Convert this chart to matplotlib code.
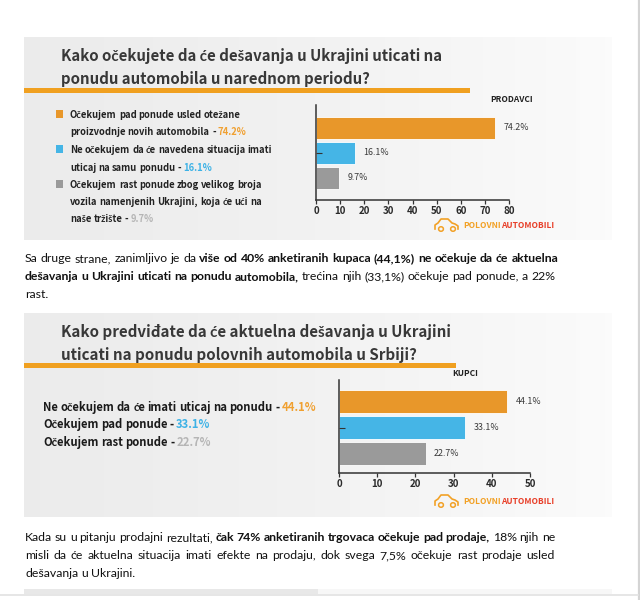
import matplotlib
matplotlib.use('Agg')
import matplotlib.pyplot as plt
import numpy as np
from matplotlib.transforms import IdentityTransform
from matplotlib.patches import Rectangle, Circle
from matplotlib.lines import Line2D

# ---------------- data ----------------
title1 = ["Kako očekujete da će dešavanja u Ukrajini uticati na",
          "ponudu automobila u narednom periodu?"]
group1 = "PRODAVCI"
legend1_lines = [
    [("Očekujem pad ponude usled otežane", 0)],
    [("proizvodnje novih automobila - ", 0), ("74.2%", 1)],
    [("Ne očekujem da će navedena situacija imati", 0)],
    [("uticaj na samu ponudu - ", 0), ("16.1%", 1)],
    [("Očekujem rast ponude zbog velikog broja", 0)],
    [("vozila namenjenih Ukrajini, koja će ući na", 0)],
    [("naše tržište - ", 0), ("9.7%", 1)],
]
sellers_values = [74.2, 16.1, 9.7]
sellers_labels = ["74.2%", "16.1%", "9.7%"]
sellers_ticks = [0, 10, 20, 30, 40, 50, 60, 70, 80]

title2 = ["Kako predviđate da će aktuelna dešavanja u Ukrajini",
          "uticati na ponudu polovnih automobila u Srbiji?"]
group2 = "KUPCI"
legend2_lines = [
    [("Ne očekujem da će imati uticaj na ponudu - ", 0), ("44.1%", 1)],
    [("Očekujem pad ponude  - ", 0), ("33.1%", 1)],
    [("Očekujem rast ponude  - ", 0), ("22.7%", 1)],
]
buyers_values = [44.1, 33.1, 22.7]
buyers_labels = ["44.1%", "33.1%", "22.7%"]
buyers_ticks = [0, 10, 20, 30, 40, 50]

para1 = [
    [("Sa druge strane, zanimljivo je da ", "normal"),
     ("više od 40% anketiranih kupaca (44,1%) ne očekuje da će aktuelna", "bold")],
    [("dešavanja u Ukrajini uticati na ponudu automobila", "bold"),
     (", trećina njih (33,1%) očekuje pad ponude, a 22%", "normal")],
    [("rast.", "normal")],
]
para2 = [
    [("Kada su u pitanju prodajni rezultati, ", "normal"),
     ("čak 74% anketiranih trgovaca očekuje pad prodaje", "bold"),
     (", 18% njih ne", "normal")],
    [("misli da će aktuelna situacija imati efekte na prodaju, dok svega 7,5% očekuje rast prodaje usled", "normal")],
    [("dešavanja u Ukrajini.", "normal")],
]

bar_colors = ["#E8972A", "#45B5E6", "#9A9A9A"]
value_colors = ["#F0A030", "#3DB2E6", "#B5B5B5"]

# ---------------- figure ----------------
W, H = 640, 600
fig = plt.figure(figsize=(W / 100, H / 100), dpi=100)
fig.patch.set_facecolor("white")
renderer = fig.canvas.get_renderer()
ID = IdentityTransform()

TFAM = ["Noto Sans CJK SC", "Lato", "DejaVu Sans"]
PFAM = ["Lato", "DejaVu Sans"]

def rect_axes(x0, y0, x1, y1):
    return [x0 / W, 1 - y1 / H, (x1 - x0) / W, (y1 - y0) / H]

def text_px(x, y, s, **kw):
    return fig.text(x, H - y, s, transform=ID, **kw)

def width_of(s, **kw):
    t = fig.text(0, 0, s, transform=ID, **kw)
    w = t.get_window_extent(renderer).width
    t.remove()
    return w

def advance_of(s, **kw):
    return width_of("H" + s + "H", **kw) - width_of("HH", **kw)

def fit_size(s, target, **kw):
    w = width_of(s, fontsize=10, **kw)
    return 10 * target / w

def draw_runs(x, y, runs, fam, size, justify_to=None):
    """runs: list of (text, weight, color). y is baseline (from top)."""
    tokens = []
    pending_space = False
    first = True
    for text, weight, color in runs:
        parts = text.split(" ")
        for i, p in enumerate(parts):
            if i > 0:
                pending_space = True
            if p == "":
                continue
            if not pending_space and tokens and p[0] in ",.":
                tokens[-1][0] += p[0]
                p = p[1:]
                if p == "":
                    continue
            tokens.append([p, weight, color, pending_space and not first])
            pending_space = False
            first = False
    sp = {}
    for wt in set(t[1] for t in tokens):
        sp[wt] = advance_of(" ", family=fam, fontsize=size, weight=wt)
    advs = [advance_of(t[0], family=fam, fontsize=size, weight=t[1]) for t in tokens]
    inks = [width_of(t[0], family=fam, fontsize=size, weight=t[1]) for t in tokens]
    natural = sum(advs) + sum(sp[t[1]] for t in tokens if t[3])
    ngaps = sum(1 for t in tokens if t[3])
    extra = 0
    if justify_to is not None and ngaps > 0:
        extra = (justify_to - x - natural) / ngaps
    cur = x
    for (p, wt, col, spb), a, ink in zip(tokens, advs, inks):
        if spb:
            cur += sp[wt] + extra
        text_px(cur + (a - ink) / 2, y, p, family=fam, fontsize=size, weight=wt,
                color=col, va="baseline", ha="left")
        cur += a

# page lines
fig.add_artist(Line2D([638.5 / W, 638.5 / W], [0, 1], color="#D4D4D4", lw=1.6))
fig.add_artist(Line2D([0, 638 / W], [1 - 595 / H, 1 - 595 / H], color="#E2E2E2", lw=1.2))

def panel(y0, y1):
    ax = fig.add_axes(rect_axes(24, y0, 612, y1), zorder=0)
    grad = np.linspace(0, 1, 256)
    c0 = np.array([0.925, 0.925, 0.925])
    c1 = np.array([0.985, 0.985, 0.985])
    img = c0[None, None, :] * (1 - grad[None, :, None] ** 1.3) + c1[None, None, :] * grad[None, :, None] ** 1.3
    ax.imshow(img, aspect="auto", extent=[0, 1, 0, 1])
    ax.set_axis_off()

panel(37, 240)
panel(313, 517)
axb = fig.add_axes(rect_axes(24, 589, 612, 594), zorder=0)
axb.imshow(np.array([[[0.91] * 3, [0.97] * 3]]), aspect="auto", extent=[0, 1, 0, 1])
axb.set_axis_off()

TCOL = "#383838"

def title(lines, x, ys, x_end_first, xorange_end, yorange):
    size = fit_size(lines[0], x_end_first - x, family=TFAM, weight="bold")
    for s, y in zip(lines, ys):
        text_px(x, y, s, family=TFAM, fontsize=size, weight="bold", color=TCOL,
                va="baseline")
    fig.add_artist(Rectangle((24 / W, 1 - (yorange + 2.5) / H), (xorange_end - 24) / W, 5 / H,
                             transform=fig.transFigure, color="#F0A020", lw=0))

title(title1, 61, [61, 84], 444, 470, 91)
title(title2, 61, [337, 360], 451, 456, 365)

text_px(533, 100, group1, family=TFAM, fontsize=6.0, weight="bold", color="#222222",
        ha="right", va="center")
text_px(465, 374, group2, family=TFAM, fontsize=6.0, weight="bold", color="#222222",
        ha="center", va="center")

LW = "bold"
# legend 1
lsize1 = fit_size(legend1_lines[0][0][0], 171, family=TFAM, weight=LW)
ly = [118, 135, 153, 171, 188, 205, 222]
cat_for_line = [0, None, 1, None, 2, None, None]
cat_of_value = {1: 0, 3: 1, 6: 2}
for i, (line, y) in enumerate(zip(legend1_lines, ly)):
    runs = []
    for s, isval in line:
        col = value_colors[cat_of_value[i]] if isval else "#222222"
        runs.append((s, LW, col))
    draw_runs(70, y, runs, TFAM, lsize1)
    if cat_for_line[i] is not None:
        c = cat_for_line[i]
        fig.add_artist(Rectangle((56 / W, 1 - (y - 0.5) / H), 7 / W, 7 / H,
                                 transform=fig.transFigure, color=bar_colors[c], lw=0))

# legend 2
lsize2 = fit_size("Ne očekujem da će imati uticaj na ponudu - 44.1%", 275,
                  family=TFAM, weight=LW)
for i, (line, y) in enumerate(zip(legend2_lines, [411, 428, 446])):
    runs = []
    for s, isval in line:
        col = value_colors[i] if isval else "#1A1A1A"
        runs.append((s, LW, col))
    draw_runs(43, y, runs, TFAM, lsize2)

# bar charts
def bars(pos_px, values, labels, ticks, centers_px, bar_h_px):
    x0, y0, x1, y1 = pos_px
    ax = fig.add_axes(rect_axes(x0, y0, x1, y1), zorder=2)
    ax.patch.set_alpha(0)
    step = centers_px[1] - centers_px[0]
    pos = np.arange(len(values))
    ax.barh(pos, values, height=bar_h_px / step, color=bar_colors,
            edgecolor="white", linewidth=0.6)
    ax.set_xlim(ticks[0], ticks[-1])
    ax.set_ylim((y1 - centers_px[0]) / step, (y0 - centers_px[0]) / step)
    for sp_ in ("top", "right"):
        ax.spines[sp_].set_visible(False)
    for sp_ in ("left", "bottom"):
        ax.spines[sp_].set_color("#333333")
        ax.spines[sp_].set_linewidth(1.1)
    ax.set_xticks(ticks)
    ax.set_xticklabels([str(t) for t in ticks], fontsize=7.0, family=TFAM,
                       weight="bold", color="#2A2A2A")
    ax.tick_params(axis="x", length=3, width=0.9, color="#333333", pad=1.5)
    ax.set_yticks([1])
    ax.set_yticklabels([""])
    ax.tick_params(axis="y", direction="in", length=4, width=0.8, color="#333333")
    for p, v, lab in zip(pos, values, labels):
        ax.annotate(lab, (v, p), xytext=(6, 0), textcoords="offset points",
                    va="center", ha="left", fontsize=6.4, family=TFAM,
                    color="#3A3A3A")
    return ax

bars((316, 105, 509, 200), sellers_values, sellers_labels, sellers_ticks,
     [128, 153], 22)
bars((339, 380, 530, 473), buyers_values, buyers_labels, buyers_ticks,
     [401.5, 427.5], 23)

# logos
def logo(x, y):
    xs = np.array([0, 0, 3, 6, 13, 17, 20, 23, 23])
    ys = np.array([0, -4, -6, -10, -10, -6, -5, -3, 0])
    fig.add_artist(Line2D((x + xs) / W, 1 - (y + 4 + ys) / H, color="#F2A126", lw=1.2))
    for cx in (6, 18):
        fig.add_artist(Circle(((x + cx) / W, 1 - (y + 4) / H), 2.4 / W,
                              transform=fig.transFigure, fill=False,
                              edgecolor="#F2A126", lw=1.1))
    fs = 6.0
    text_px(x + 28, y, "POLOVNI", family=TFAM, weight="bold", fontsize=fs,
            color="#F2A126", va="center")
    w = advance_of("POLOVNI", family=TFAM, weight="bold", fontsize=fs)
    text_px(x + 28 + w, y, "AUTOMOBILI", family=TFAM, weight="bold",
            fontsize=fs, color="#E8402A", va="center")

logo(435, 225)
logo(435, 501)

# paragraphs
psize = fit_size("Sa druge strane, zanimljivo je da više od 40% anketiranih kupaca (44,1%) ne očekuje da će aktuelna",
                 532, family=PFAM, weight="normal")
for line, y in zip(para1, [262, 280, 298]):
    draw_runs(25, y, [(s, w, "#111111") for s, w in line], PFAM, psize)
for i, (line, y) in enumerate(zip(para2, [541, 559, 577])):
    draw_runs(25, y, [(s, w, "#111111") for s, w in line], PFAM, psize,
              justify_to=555 if i < 2 else None)

fig.savefig("out.png", dpi=100, facecolor="white")
